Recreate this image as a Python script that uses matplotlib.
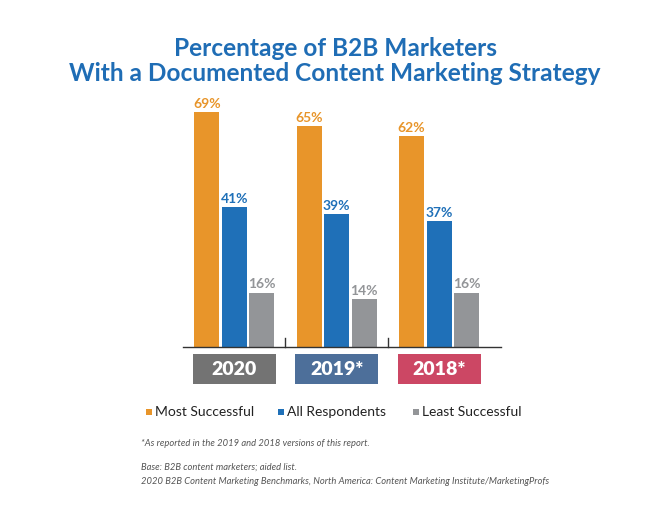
import matplotlib
matplotlib.use("Agg")
import matplotlib.pyplot as plt
from matplotlib.patches import Rectangle
from matplotlib.transforms import blended_transform_factory
import numpy as np

years = ["2020", "2019*", "2018*"]
series = ["Most Successful", "All Respondents", "Least Successful"]
most_successful = [69, 65, 62]
all_respondents = [41, 39, 37]
least_successful = [16, 14, 16]

series_colors = ["#e8952a", "#1f70b8", "#939598"]
year_colors = ["#737373", "#4d6f9a", "#cc4764"]
title_color = "#1f6db5"

W, H = 670, 514
fig = plt.figure(figsize=(W / 100, H / 100), dpi=100)
fig.patch.set_facecolor("white")

ax = fig.add_axes([183 / W, (514 - 347) / H, 318 / W, 258.75 / H])
ax.set_xlim(-0.50, 2.605)
ax.set_ylim(0, 76)
for s in ["top", "right", "left"]:
    ax.spines[s].set_visible(False)
ax.spines["bottom"].set_color("#333333")
ax.spines["bottom"].set_linewidth(1.0)
ax.set_xticks([])
ax.set_yticks([])
ax.patch.set_alpha(0)

x = np.arange(len(years))
bw = 0.244
step = 0.268
all_vals = [most_successful, all_respondents, least_successful]
for i, (vals, col) in enumerate(zip(all_vals, series_colors)):
    xs = x + (i - 1) * step
    ax.bar(xs, vals, width=bw, color=col, label=series[i], zorder=2)
    for xi, v in zip(xs, vals):
        ax.annotate(f"{v}%", (xi, v), xytext=(0, 1.5), textcoords="offset points",
                    ha="center", va="bottom", fontsize=10, fontweight="bold",
                    color=col, family="Lato")

# small separator ticks between groups
trans = blended_transform_factory(ax.transData, ax.transAxes)
for sx in [0.5, 1.5]:
    ax.plot([sx, sx], [0, 9 / 258.75], color="#333333", lw=1.0, transform=trans,
            clip_on=False)

# year label boxes
bh = 30 / 258.75
for xi, yr, c in zip(x, years, year_colors):
    ax.add_patch(Rectangle((xi - 0.405, -0.143), 0.81, bh, transform=trans,
                           facecolor=c, edgecolor="none", clip_on=False))
    ax.text(xi, -0.143 + bh / 2, yr, transform=trans, ha="center", va="center",
            color="white", fontsize=14, fontweight="heavy", family="Lato")

# title
fig.text(0.5, 1 - 48 / H, "Percentage of B2B Marketers", ha="center", va="center",
         fontsize=17.6, fontweight="bold", color=title_color, family="Lato")
fig.text(0.5, 1 - 74 / H, "With a Documented Content Marketing Strategy", ha="center",
         va="center", fontsize=17.6, fontweight="bold", color=title_color, family="Lato")

# legend
leg_x = [146, 278, 413]
for lx, name, col in zip(leg_x, series, series_colors):
    fig.patches.append(Rectangle((lx / W, 1 - 415 / H), 6 / W, 6 / H,
                                 transform=fig.transFigure, facecolor=col,
                                 edgecolor="none"))
    fig.text((lx + 9) / W, 1 - 412 / H, name, ha="left", va="center",
             fontsize=10, color="#222222", family="Lato")

# footnotes
fn = dict(ha="left", va="center", fontsize=6.75, style="italic", color="#555555", family="Lato")
fig.text(141 / W, 1 - 443 / H, "*As reported in the 2019 and 2018 versions of this report.", **fn)
fig.text(141 / W, 1 - 467 / H, "Base: B2B content marketers; aided list.", **fn)
fig.text(141 / W, 1 - 481 / H,
         "2020 B2B Content Marketing Benchmarks, North America: Content Marketing Institute/MarketingProfs",
         **fn)

fig.savefig("out.png", dpi=100)
